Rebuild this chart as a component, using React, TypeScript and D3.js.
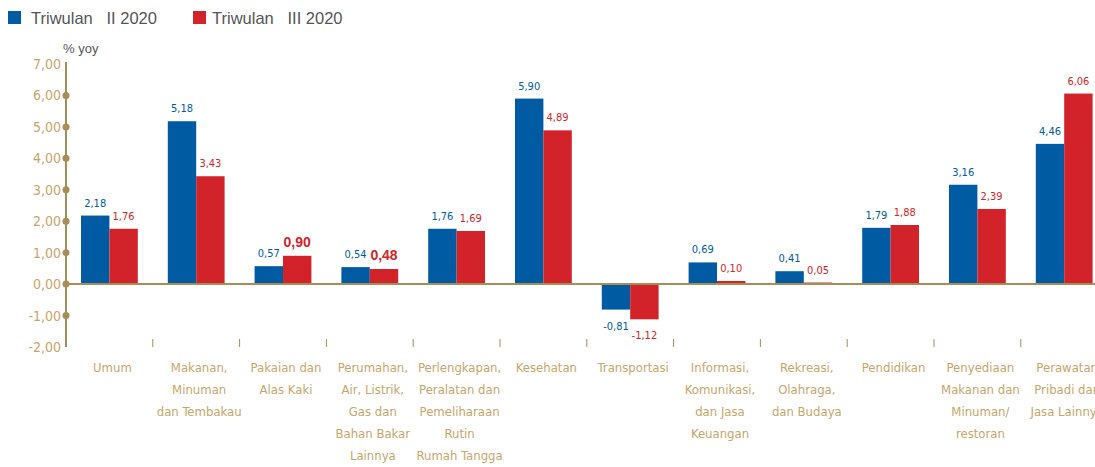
import React from 'react';
import * as d3 from 'd3';

const categories = [
  'Umum',
  'Makanan,\nMinuman\ndan Tembakau',
  'Pakaian dan\nAlas Kaki',
  'Perumahan,\nAir, Listrik,\nGas dan\nBahan Bakar\nLainnya',
  'Perlengkapan,\nPeralatan dan\nPemeliharaan\nRutin\nRumah Tangga',
  'Kesehatan',
  'Transportasi',
  'Informasi,\nKomunikasi,\ndan Jasa\nKeuangan',
  'Rekreasi,\nOlahraga,\ndan Budaya',
  'Pendidikan',
  'Penyediaan\nMakanan dan\nMinuman/\nrestoran',
  'Perawatan\nPribadi dan\nJasa Lainnya',
];

const q2Values = [2.18, 5.18, 0.57, 0.54, 1.76, 5.9, -0.81, 0.69, 0.41, 1.79, 3.16, 4.46];
const q3Values = [1.76, 3.43, 0.9, 0.48, 1.69, 4.89, -1.12, 0.1, 0.05, 1.88, 2.39, 6.06];

const seriesNames = ['Triwulan   II 2020', 'Triwulan   III 2020'];
const yTicks = [-2, -1, 0, 1, 2, 3, 4, 5, 6, 7];
// labels that are drawn bigger and bold in the original
const boldQ3 = [2, 3];

const BLUE = '#005ba3';
const RED = '#d2232a';
const TAN = '#c6a66a';
const AXIS = '#a68e58';
const narrow = '"Liberation Sans Narrow", "DejaVu Sans Condensed", "Arial Narrow", sans-serif';

const fmt = (v: number) => v.toFixed(2).replace('.', ',');

export default function App() {
  const left = 66;
  const step = 86.8;

  const x = d3.scaleBand<number>()
    .domain(categories.map((_, i) => i))
    .range([left, left + step * categories.length])
    .padding(0);

  const inner = d3.scaleBand<string>()
    .domain(['q2', 'q3'])
    .range([15, step - 15])
    .padding(0);

  const y = d3.scaleLinear().domain([-2, 7]).range([347, 64]);

  const series = [
    { key: 'q2', values: q2Values, color: BLUE },
    { key: 'q3', values: q3Values, color: RED },
  ];

  return (
    <svg width={1095} height={467} style={{ display: 'block', position: 'absolute', left: 0, top: 0 }}>
      <rect width={1095} height={467} fill="#fff" />

      {/* legend */}
      <rect x={8} y={11} width={13} height={13} fill={BLUE} />
      <text x={31} y={24} fontFamily="Arial, Liberation Sans, sans-serif" fontSize={16.5} fill="#555" style={{ whiteSpace: 'pre' }}>{seriesNames[0]}</text>
      <rect x={193} y={11} width={13} height={13} fill={RED} />
      <text x={212} y={24} fontFamily="Arial, Liberation Sans, sans-serif" fontSize={16.5} fill="#555" style={{ whiteSpace: 'pre' }}>{seriesNames[1]}</text>

      <text x={63} y={53} fontFamily="Arial, Liberation Sans, sans-serif" fontSize={13} fill="#555">% yoy</text>

      {/* bars */}
      {series.map(s =>
        s.values.map((v, i) => (
          <rect
            key={s.key + i}
            x={(x(i) ?? 0) + (inner(s.key) ?? 0)}
            y={y(Math.max(0, v))}
            width={inner.bandwidth()}
            height={Math.abs(y(v) - y(0))}
            fill={s.color}
          />
        ))
      )}

      {/* value labels */}
      {series.map(s =>
        s.values.map((v, i) => {
          const cx = (x(i) ?? 0) + (inner(s.key) ?? 0) + inner.bandwidth() / 2;
          const big = s.key === 'q3' && boldQ3.includes(i);
          const ty = v >= 0 ? y(v) - 9 : y(v) + 20;
          return (
            <text
              key={'l' + s.key + i}
              x={cx}
              y={ty}
              textAnchor="middle"
              fontFamily={big ? 'Arial, Liberation Sans, sans-serif' : narrow}
              fontWeight={big ? 'bold' : 'normal'}
              fontSize={big ? 14 : 11}
              fill={s.color}
            >
              {fmt(v)}
            </text>
          );
        })
      )}

      {/* zero line */}
      <line x1={left} x2={1095} y1={y(0)} y2={y(0)} stroke={AXIS} strokeWidth={2} />

      {/* y axis */}
      <line x1={left} x2={left} y1={y(7) - 2} y2={y(-2)} stroke={AXIS} strokeWidth={2} />
      {yTicks.map(t => (
        <g key={t}>
          {t > -2 && t < 7 && <circle cx={left} cy={y(t)} r={3.5} fill={AXIS} />}
          <text x={left - 5} y={y(t) + 5} textAnchor="end" fontFamily={narrow} fontSize={14} fill={TAN}>
            {fmt(t)}
          </text>
        </g>
      ))}

      {/* category separators */}
      {categories.map((_, i) =>
        i > 0 ? (
          <line key={'s' + i} x1={x(i)} x2={x(i)} y1={339} y2={347} stroke={AXIS} strokeWidth={1} />
        ) : null
      )}

      {/* category labels */}
      {categories.map((c, i) => (
        <text
          key={'c' + i}
          x={(x(i) ?? 0) + x.bandwidth() / 2 + 3}
          y={372}
          textAnchor="middle"
          fontFamily={narrow}
          fontSize={13}
          fill={TAN}
        >
          {c.split('\n').map((line, j) => (
            <tspan key={j} x={(x(i) ?? 0) + x.bandwidth() / 2 + 3} dy={j === 0 ? 0 : 22}>{line}</tspan>
          ))}
        </text>
      ))}
    </svg>
  );
}
